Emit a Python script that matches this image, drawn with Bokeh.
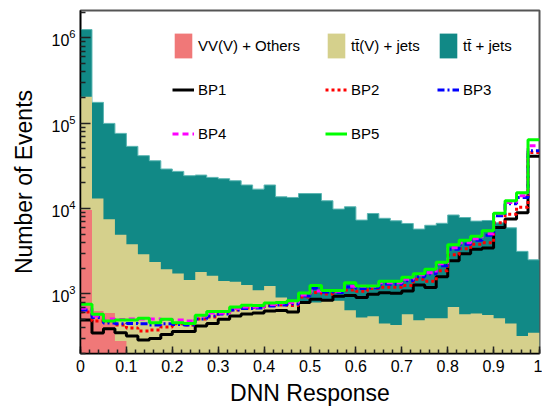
import numpy as np
from bokeh.plotting import figure
from bokeh.models import Range1d, FixedTicker, Legend, LegendItem
from bokeh.embed import file_html
from bokeh.resources import INLINE

# ---------------- data (40 bins of DNN response, 0..1) ----------------
n_bins = 40
bin_edges = np.linspace(0.0, 1.0, n_bins + 1)

vv_others = [9600, 632, 598, 281] + [0] * 36

ttv_jets = [195400, 12470, 6890, 4650, 3830, 2920, 2370, 1950, 1730, 1450,
            1810, 1630, 1420, 1390, 1275, 1105, 1240, 905, 844, 769,
            790, 828, 828, 644, 527, 547, 448, 433, 578, 491,
            519, 519, 704, 578, 587, 567, 519, 448, 321, 351]

tt_jets = [1050000, 162800, 92200, 71200, 49800, 38800, 34000, 27150, 25570, 22850,
           22900, 21570, 20980, 19810, 17625, 15795, 17660, 12845, 12656, 14231,
           14210, 11522, 9042, 9856, 6803, 8213, 7242, 6757, 6112, 5259,
           5851, 6201, 7706, 7282, 6543, 6683, 6291, 5502, 2829, 2159]

bp1 = [495, 348, 391, 351, 321, 288, 300, 335, 361, 361,
       421, 448, 505, 552, 582, 598, 632, 640, 615, 790,
       867, 844, 935, 960, 905, 992, 1033, 1014, 1084, 1275,
       1186, 1592, 2440, 2948, 3347, 3439, 6001, 7530, 8926, 41100]

bp2 = [615, 482, 476, 433, 399, 368, 378, 410, 445, 433,
       509, 537, 598, 649, 685, 694, 733, 743, 733, 922,
       1036, 1000, 1084, 1114, 1070, 1160, 1192, 1192, 1258, 1480,
       1402, 1862, 2869, 3375, 3811, 3968, 6811, 8574, 10360, 45560]

bp3 = [649, 527, 457, 445, 451, 445, 433, 445, 439, 433,
       509, 552, 582, 649, 676, 685, 723, 743, 763, 947,
       1166, 1055, 1041, 1208, 1160, 1176, 1310, 1293, 1421, 1583,
       1717, 2131, 3329, 3811, 4246, 4860, 8233, 11380, 13500, 47700]

bp4 = [680, 552, 509, 502, 509, 509, 509, 502, 495, 482,
       552, 598, 598, 676, 704, 704, 753, 784, 795, 973,
       1084, 1099, 1070, 1225, 1225, 1225, 1346, 1346, 1480, 1671,
       1764, 2249, 3467, 3968, 4421, 5061, 8690, 11790, 14130, 54600]

bp5 = [757, 578, 482, 495, 495, 519, 460, 505, 460, 448,
       562, 620, 620, 704, 737, 733, 784, 795, 828, 1027,
       1258, 1099, 1099, 1346, 1241, 1241, 1402, 1402, 1562, 1717,
       1939, 2343, 3759, 4246, 4731, 5488, 8806, 12350, 15320, 64200]

x_tick_labels = ["0", "0.1", "0.2", "0.3", "0.4", "0.5", "0.6", "0.7", "0.8", "0.9", "1"]
y_major_ticks = [1e3, 1e4, 1e5, 1e6]

# ---------------- figure ----------------
FONT = "Liberation Sans"
floor = 1.0

p = figure(width=542, height=409, x_range=Range1d(0, 1), y_range=Range1d(200, 2.1e6),
           y_axis_type="log", output_backend="svg", toolbar_location=None,
           min_border_left=80, min_border_right=3, min_border_top=10, min_border_bottom=56)
p.xgrid.visible = False
p.ygrid.visible = False
p.outline_line_color = "#555555"
p.outline_line_width = 2
p.background_fill_color = "white"

def ext(a):
    a = np.asarray(a, dtype=float)
    return np.append(a, a[-1])

vv = np.asarray(vv_others, dtype=float)
ttv = np.asarray(ttv_jets, dtype=float)
ttb = np.asarray(tt_jets, dtype=float)
stack_vv = np.where(vv > 0, vv, floor)
stack_ttv = vv + ttv
stack_tt = vv + ttv + ttb

r_tt = p.varea_step(x=bin_edges, y1=floor, y2=ext(stack_tt), step_mode="after",
                    fill_color="#118986")
p.step(x=bin_edges, y=ext(stack_tt), mode="after", line_color="#5cb6b2", line_width=1)
r_ttv = p.varea_step(x=bin_edges, y1=floor, y2=ext(stack_ttv), step_mode="after",
                     fill_color="#d5d08c")
r_vv = p.varea_step(x=bin_edges, y1=floor, y2=ext(stack_vv), step_mode="after",
                    fill_color="#f07878")

lw = 3
r1 = p.step(x=bin_edges, y=ext(bp1), mode="after", line_color="black", line_width=lw)
r2 = p.step(x=bin_edges, y=ext(bp2), mode="after", line_color="#ff0000", line_width=lw,
            line_dash="3 3")
r3 = p.step(x=bin_edges, y=ext(bp3), mode="after", line_color="#0000ff", line_width=lw,
            line_dash="7 3 2 3")
r4 = p.step(x=bin_edges, y=ext(bp4), mode="after", line_color="#ff00ff", line_width=lw,
            line_dash="6 4")
r5 = p.step(x=bin_edges, y=ext(bp5), mode="after", line_color="#00ff00", line_width=lw)

# ---------------- axes ----------------
x_major = [float(s) for s in x_tick_labels]
x_minor = [round(v, 3) for v in np.arange(0, 1.0001, 0.02)]
p.xaxis.ticker = FixedTicker(ticks=x_major, minor_ticks=x_minor)
p.xaxis.major_label_overrides = {float(s): s for s in x_tick_labels}

y_minor = []
for m in [100, 1000, 10000, 100000, 1000000]:
    for k in range(2, 10):
        y_minor.append(k * m)
p.yaxis.ticker = FixedTicker(ticks=y_major_ticks, minor_ticks=y_minor)

for ax in (p.xaxis, p.yaxis):
    ax.axis_line_color = "black"
    ax.axis_line_width = 1.5
    ax.major_tick_out = 0
    ax.minor_tick_out = 0
    ax.major_tick_line_color = "#222222"
    ax.minor_tick_line_color = "#222222"
    ax.major_tick_line_width = 1.5
    ax.minor_tick_line_width = 1.5
    ax.major_label_text_font = FONT
    ax.major_label_text_font_size = "16px"
    ax.major_label_text_color = "black"
    ax.axis_label_text_font = FONT
    ax.axis_label_text_font_size = "23px"
    ax.axis_label_text_font_style = "normal"
    ax.axis_label_text_color = "black"

p.xaxis.major_tick_in = 7
p.xaxis.minor_tick_in = 4
p.xaxis.major_label_standoff = 6
p.xaxis.axis_label = "DNN Response"
p.xaxis.axis_label_standoff = 5

p.yaxis.major_tick_in = 10
p.yaxis.minor_tick_in = 5
p.yaxis.major_label_standoff = 5
p.yaxis.axis_label = "Number of Events"
p.yaxis.axis_label_standoff = 11

# ---------------- legend (3 columns) ----------------
# location = bottom-left corner of each legend, in screen px from frame bottom-left
def make_legend(items, x, y_bottom):
    return Legend(items=items, location=(x, y_bottom), orientation="vertical",
                  glyph_width=22, glyph_height=31, label_height=31,
                  label_standoff=4, spacing=13, padding=0, margin=0,
                  border_line_alpha=0, background_fill_alpha=0,
                  label_text_font=FONT, label_text_font_size="15px",
                  label_text_color="black")

leg1 = make_legend([LegendItem(label="VV(V) + Others", renderers=[r_vv]),
                    LegendItem(label="BP1", renderers=[r1]),
                    LegendItem(label="BP4", renderers=[r4])], 92, 204)
leg2 = make_legend([LegendItem(label="tt\u0304(V) + jets", renderers=[r_ttv]),
                    LegendItem(label="BP2", renderers=[r2]),
                    LegendItem(label="BP5", renderers=[r5])], 245, 204)
leg3 = make_legend([LegendItem(label="tt\u0304 + jets", renderers=[r_tt]),
                    LegendItem(label="BP3", renderers=[r3])], 357, 248)
for leg in (leg1, leg2, leg3):
    p.add_layout(leg, "center")

open("out.html", "w").write(file_html(p, INLINE))
